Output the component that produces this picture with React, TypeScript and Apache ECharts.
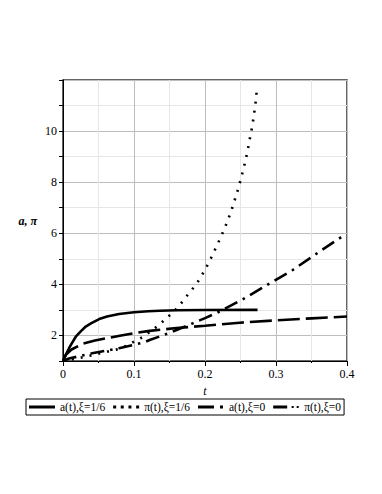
import React, { useEffect, useRef } from "react";
import * as echarts from "echarts";

const seriesNames = ["a(t),ξ=1/6", "π(t),ξ=1/6", "a(t),ξ=0", "π(t),ξ=0"];

const aXi16: [number, number][] = [
  [0, 1.0], [0.004, 1.25], [0.0085, 1.5], [0.013, 1.72], [0.018, 1.95], [0.025, 2.16],
  [0.032, 2.35], [0.04, 2.48], [0.051, 2.64], [0.062, 2.74], [0.079, 2.84], [0.1, 2.91],
  [0.12, 2.95], [0.136, 2.97], [0.16, 2.985], [0.2, 2.995], [0.274, 3.0],
];

const piXi16: [number, number][] = [
  [0, 1.0], [0.02, 1.1], [0.04, 1.22], [0.06, 1.35], [0.078, 1.47], [0.0896, 1.6],
  [0.1, 1.76], [0.112, 1.93], [0.1325, 2.35], [0.142, 2.58], [0.152, 2.83], [0.161, 3.07],
  [0.169, 3.35], [0.177, 3.64], [0.185, 3.91], [0.193, 4.22], [0.199, 4.53], [0.205, 4.83],
  [0.2107, 5.16], [0.2216, 5.81], [0.2268, 6.14], [0.2315, 6.46], [0.2358, 6.78],
  [0.24, 7.13], [0.2437, 7.47], [0.2475, 7.81], [0.2508, 8.16], [0.2542, 8.52],
  [0.257, 8.85], [0.2598, 9.2], [0.2621, 9.55], [0.2645, 9.9], [0.2669, 10.24],
  [0.2687, 10.6], [0.2706, 10.95], [0.272, 11.3], [0.273, 11.65],
];

const aXi0: [number, number][] = [
  [0, 1.0], [0.004, 1.24], [0.012, 1.45], [0.027, 1.67], [0.045, 1.8], [0.065, 1.91],
  [0.08, 1.99], [0.098, 2.08], [0.122, 2.18], [0.16, 2.29], [0.2, 2.38], [0.249, 2.5],
  [0.3, 2.59], [0.35, 2.67], [0.4, 2.74],
];

const piXi0: [number, number][] = [
  [0, 1.0], [0.0085, 1.1], [0.025, 1.2], [0.041, 1.3], [0.06, 1.4], [0.079, 1.5],
  [0.1, 1.63], [0.117, 1.76], [0.122, 1.82], [0.15, 2.1], [0.183, 2.48], [0.2, 2.68],
  [0.22, 2.93], [0.256, 3.46], [0.29, 4.02], [0.324, 4.57], [0.358, 5.22], [0.393, 5.87],
  [0.398, 5.95],
];

const yEvenLabels = [2, 4, 6, 8, 10];
const xLabels = [0, 0.1, 0.2, 0.3, 0.4];

const FONT = "Liberation Serif";

const legendIcons = [
  "path://M0,0H26V3H0Z",
  "path://M0,0h3v3h-3Z M7.6,0h3v3h-3Z M15.3,0h3v3h-3Z M23,0h3v3h-3Z",
  "path://M0,0H16V3H0Z M22,0h3v3h-3Z M0,0v0Z M26,0v0Z",
  "path://M0,0H14V3H0Z M18.5,0.5h2v2h-2Z M23.5,0.5h2v2h-2Z M0,0v0Z M26,3v0Z",
];

export default function App() {
  const ref = useRef<HTMLDivElement>(null);
  useEffect(() => {
    if (!ref.current) return;
    const chart = echarts.init(ref.current, undefined, { renderer: "svg" });
    const lineBase = { type: "line", showSymbol: false, symbol: "none", smooth: false, z: 3 };
    chart.setOption({
      animation: false,
      backgroundColor: "#fff",
      textStyle: { fontFamily: FONT },
      grid: {
        left: 63, right: 35, top: 80, bottom: 133,
        show: true, borderColor: "#333", borderWidth: 1.5, backgroundColor: "transparent",
      },
      legend: {
        left: 26, top: 399, orient: "horizontal",
        itemWidth: 26, itemHeight: 3, itemGap: 8,
        padding: [2, 3, 2, 3],
        borderColor: "#000", borderWidth: 1,
        textStyle: { fontFamily: FONT, fontSize: 11.5, color: "#000" },
        data: seriesNames.map((n, i) => ({ name: n, icon: legendIcons[i], itemStyle: { color: "#000" } })),
      },
      xAxis: {
        type: "value", min: 0, max: 0.4, interval: 0.1,
        name: "t", nameLocation: "middle", nameGap: 20,
        nameTextStyle: { fontFamily: FONT, fontStyle: "italic", fontSize: 12, color: "#000" },
        axisLine: { show: true, onZero: false, lineStyle: { color: "#000", width: 1 } },
        axisTick: { show: true, length: 5, lineStyle: { color: "#000" } },
        minorTick: { show: true, splitNumber: 2, length: 2, lineStyle: { color: "#000" } },
        axisLabel: {
          margin: 7, fontFamily: FONT, fontSize: 12, color: "#000",
          formatter: (v: number) => {
            const m = xLabels.find((x) => Math.abs(x - v) < 1e-9);
            return m === undefined ? "" : String(m);
          },
        },
        splitLine: { show: true, lineStyle: { color: "#bdbdbd", width: 1 } },
        minorSplitLine: { show: true, lineStyle: { color: "#e6e6e6", width: 1 } },
      },
      yAxis: {
        type: "value", min: 1, max: 12, interval: 1,
        name: "a, π", nameLocation: "middle", nameRotate: 0, nameGap: 26,
        nameTextStyle: { fontFamily: FONT, fontStyle: "italic", fontWeight: "bold", fontSize: 12, color: "#000", padding: [7, 0, 0, 0] },
        axisLine: { show: true, onZero: false, lineStyle: { color: "#000", width: 1 } },
        axisTick: { show: true, length: 4, lineStyle: { color: "#000" } },
        axisLabel: {
          margin: 6, fontFamily: FONT, fontSize: 12, color: "#000",
          formatter: (v: number) => (yEvenLabels.includes(Math.round(v)) && Math.abs(v - Math.round(v)) < 1e-9 ? String(Math.round(v)) : ""),
        },
        splitLine: { show: true, lineStyle: { color: ["#e6e6e6", "#bdbdbd"], width: 1 } },
      },
      series: [
        { ...lineBase, name: seriesNames[0], data: aXi16, lineStyle: { color: "#000", width: 2.6, type: "solid" }, itemStyle: { color: "#000" } },
        { ...lineBase, name: seriesNames[1], data: piXi16, lineStyle: { color: "#000", width: 2.6, type: [2, 7], cap: "butt" }, itemStyle: { color: "#000" } },
        { ...lineBase, name: seriesNames[2], data: aXi0, lineStyle: { color: "#000", width: 2.6, type: [22, 6] }, itemStyle: { color: "#000" } },
        { ...lineBase, name: seriesNames[3], data: piXi0, lineStyle: { color: "#000", width: 2.6, type: [14, 6, 2.5, 6] }, itemStyle: { color: "#000" } },
      ],
    });
    return () => chart.dispose();
  }, []);
  return <div ref={ref} style={{ position: "fixed", left: 0, top: 0, width: 382, height: 494 }} />;
}
